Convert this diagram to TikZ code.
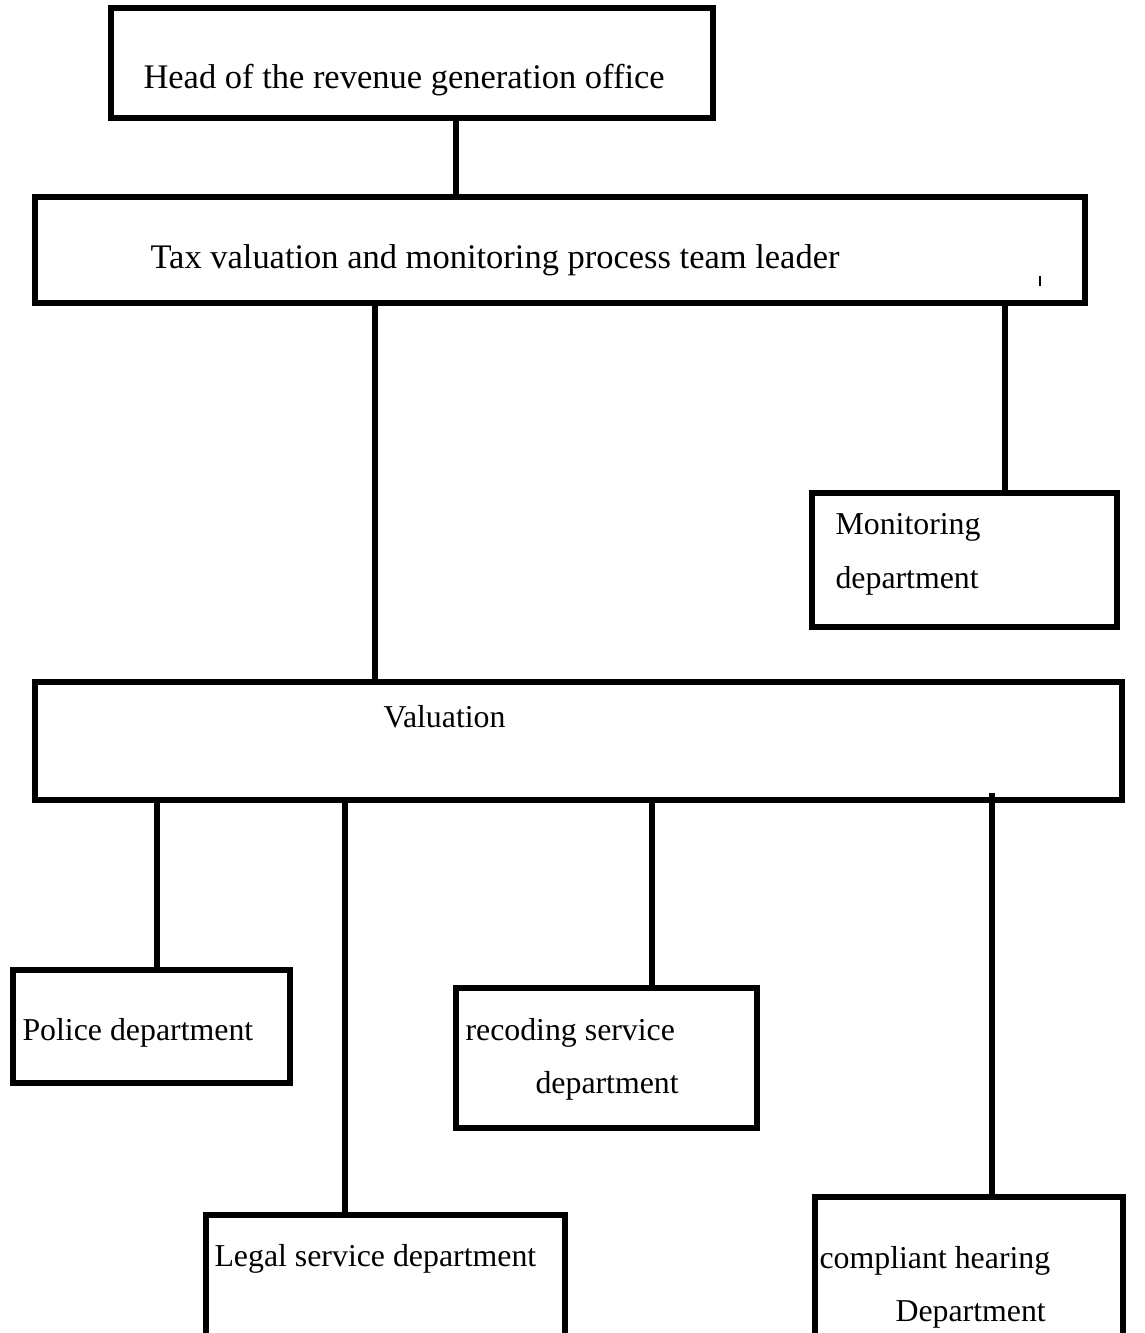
\documentclass[tikz,border=0pt]{standalone}
\usepackage{fontspec}
\setmainfont{Liberation Serif}
\usetikzlibrary{fit}

\tikzset{
  orgbox/.style={draw, line width=2pt, inner sep=0pt},
  conn/.style={line width=2pt},
  lbl/.style={anchor=base west, inner sep=0pt, font=\fontsize{12}{14}\selectfont},
  biglbl/.style={lbl, font=\fontsize{13}{15}\selectfont},
}

\begin{document}
\begin{tikzpicture}[x=0.377pt, y=-0.377pt]
\path[use as bounding box, clip] (0,0) rectangle (1144,1333);

% Boxes (pixel grid, y runs down)
\node[orgbox, fit={(111,8) (713,118)}] (head) {};
\node[orgbox, fit={(35,197) (1085,303)}] (tax) {};
\node[orgbox, fit={(812,493) (1117,627)}] (mon) {};
\node[orgbox, fit={(35,682) (1122,800)}] (val) {};
\node[orgbox, fit={(13,970) (290,1083)}] (pol) {};
\node[orgbox, fit={(456,988) (757,1128)}] (rec) {};
% these two run off the bottom edge
\node[orgbox, fit={(206,1215) (565,1360)}] (leg) {};
\node[orgbox, fit={(815,1197) (1123,1360)}] (cmp) {};

% Texts
\node[biglbl] (headtxt) at (143,89) {Head of the revenue generation office};
\node[biglbl] (taxtxt) at (150,268) {Tax valuation and monitoring process team leader};
\node[lbl] (montxta) at (835,534) {Monitoring};
\node[lbl] (montxtb) at (835,588) {department};
\node[lbl] (valtxt) at (383,727) {Valuation};
\node[lbl] (poltxt) at (22,1040) {Police department};
\node[lbl] (rectxta) at (465,1040) {recoding service};
\node[lbl] (rectxtb) at (535,1093) {department};
\node[lbl] (legtxt) at (214,1266) {Legal service department};
\node[lbl] (cmptxta) at (819,1268) {compliant hearing};
\node[lbl] (cmptxtb) at (895,1321) {Department};

% Connectors
\foreach \x/\a/\b in {456/head/tax, 375/tax/val, 1005/tax/mon,
                      157/val/pol, 345/val/leg, 652/val/rec} {
  \draw[conn] (\x,0 |- \a.south) -- (\x,0 |- \b.north);
}
\coordinate (cmptop) at (992,793);
\draw[conn] (cmptop) -- (992,0 |- cmp.north);

% stray tick inside the leader box
\draw[line width=0.4pt] (1040,276) -- (1040,286);

\end{tikzpicture}
\end{document}
